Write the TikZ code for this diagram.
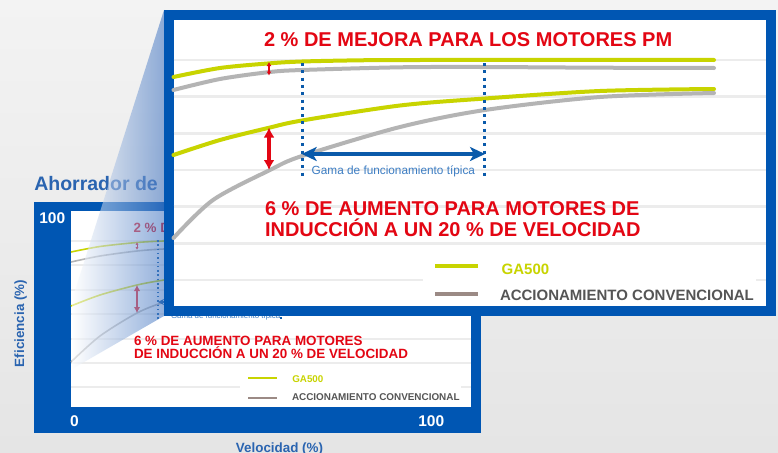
\documentclass[tikz,border=0pt]{standalone}
\usepackage{fontspec}
\setmainfont{Liberation Sans}
\usetikzlibrary{arrows.meta}
\definecolor{bgtop}{RGB}{243,243,243}
\definecolor{bgbot}{RGB}{229,229,229}
\definecolor{frameblue}{RGB}{0,86,179}
\definecolor{cred}{RGB}{227,6,19}
\definecolor{cgreen}{RGB}{200,212,0}
\definecolor{cgray}{RGB}{180,180,180}
\definecolor{leggray}{RGB}{155,138,133}
\definecolor{txtgray}{RGB}{85,85,85}
\definecolor{gridgray}{RGB}{236,236,236}
\definecolor{gamablue}{RGB}{60,125,195}
\definecolor{arrblue}{RGB}{10,90,170}
\definecolor{titleblue}{RGB}{42,100,176}
\definecolor{wedgeblue}{RGB}{70,120,195}
\tikzset{
  lbl/.style={inner sep=0pt, outer sep=0pt, anchor=base west},
  bigred/.style={lbl, text=cred, font=\bfseries\fontsize{20}{24}\selectfont},
  smallred/.style={lbl, text=cred, font=\bfseries\fontsize{13.4}{16}\selectfont},
  biggrid/.style={gridgray, line width=2.7pt},
  smallgrid/.style={gridgray, line width=2pt},
  bigcurve/.style={line width=4pt, line cap=round},
  smallcurve/.style={line width=1.6pt},
  bigdots/.style={arrblue, line width=3pt, dash pattern=on 3pt off 4.3pt},
  smalldots/.style={arrblue, line width=1.5pt, dash pattern=on 1.5pt off 2.8pt},
  axislbl/.style={text=titleblue, font=\bfseries\fontsize{13.4}{16}\selectfont, inner sep=0pt},
  ticklbl/.style={lbl, text=white, font=\bfseries\fontsize{15.5}{18}\selectfont},
}
\begin{document}
\begin{tikzpicture}[x=1pt,y=-1pt]
\useasboundingbox (0,0) rectangle (778,452);
\shade[top color=bgtop, bottom color=bgbot] (0,0) rectangle (778,452);

% ---------- small chart ----------
\node[lbl, text=titleblue, font=\bfseries\fontsize{19.5}{22}\selectfont] (title) at (34.3,190) {Ahorrador de};
\node[axislbl, rotate=90, anchor=base] (ylab) at (24,323.5) {Eficiencia (\%)};
\node[axislbl, anchor=base] (xlab) at (279.5,452.5) {Velocidad (\%)};

\fill[frameblue] (34,202) rectangle (481,433);
\fill[white] (71,211) rectangle (471,407);
\foreach \yy in {241,265.4,289.8,314.2,338.6,363}
  \draw[smallgrid] (71,\yy) -- (471,\yy);
\draw[smallgrid] (71,387.4) -- (240,387.4);
\draw[smallgrid] (461,387.4) -- (471,387.4);

\draw[smallcurve, cgreen] plot[smooth] coordinates {(71,252) (100,246.5) (137,242.5) (164,241) (200,240.5)};
\draw[smallcurve, cgray] plot[smooth] coordinates {(71,262) (100,256) (137,251) (164,249) (200,248)};
\draw[smallcurve, cgreen] plot[smooth] coordinates {(71,306) (100,295) (137,285) (164,280) (200,275)};
\draw[smallcurve, cgray] plot[smooth] coordinates {(71,362) (100,336) (137,313) (164,302) (200,290)};

\coordinate (sd1t) at (158,240); \coordinate (sd1b) at (158,319);
\coordinate (sd2t) at (281,240); \coordinate (sd2b) at (281,319);
\draw[smalldots] (sd1t) -- (sd1b);
\draw[smalldots] (sd2t) -- (sd2b);
\coordinate (sal) at (158,302); \coordinate (sar) at (281,302);
\draw[arrblue, line width=1.5pt, {Stealth[length=6pt,width=6pt]}-{Stealth[length=6pt,width=6pt]}] (sal) -- (sar);
\node[lbl, text=gamablue, font=\fontsize{7.9}{9}\selectfont] (sgama) at (171,318.5) {Gama de funcionamiento típica};

\coordinate (sa1t) at (137,242.3); \coordinate (sa1b) at (137,249.7);
\draw[cred, line width=0.9pt, {Latex[length=2.5pt,width=3pt]}-{Latex[length=2.5pt,width=3pt]}] (sa1t) -- (sa1b);
\coordinate (sa2t) at (137,285); \coordinate (sa2b) at (137,313);
\draw[cred, line width=2pt, {Latex[length=6pt,width=6.5pt]}-{Latex[length=6pt,width=6.5pt]}] (sa2t) -- (sa2b);

\node[smallred] (st1) at (133.5,232) {2 \% DE MEJORA};
\node[smallred] (st2) at (134,345) {6 \% DE AUMENTO PARA MOTORES};
\node[smallred] (st3) at (134,358.3) {DE INDUCCIÓN A UN 20 \% DE VELOCIDAD};

\coordinate (sl1a) at (248,378.3); \coordinate (sl1b) at (277,378.3);
\draw[cgreen, line width=2.2pt] (sl1a) -- (sl1b);
\node[lbl, text=cgreen, font=\bfseries\fontsize{9.8}{12}\selectfont] (sga) at (292.3,382.7) {GA500};
\coordinate (sl2a) at (248,397.7); \coordinate (sl2b) at (277,397.7);
\draw[leggray, line width=2.2pt] (sl2a) -- (sl2b);
\node[lbl, text=txtgray, font=\bfseries\fontsize{9.9}{12}\selectfont] (sacc) at (292,400.7) {ACCIONAMIENTO CONVENCIONAL};

\node[ticklbl] (t100a) at (39.3,223) {100};
\node[ticklbl] (t0) at (70,426) {0};
\node[ticklbl] (t100b) at (418.3,426) {100};

% ---------- magnifier wedge ----------
\shade[left color=white, right color=wedgeblue, fill opacity=0.58] (164,10) -- (72,300) -- (72,369) -- (164,316) -- cycle;

% ---------- big chart ----------
\fill[frameblue] (164,10) rectangle (776,315.5);
\fill[white] (173.5,20) rectangle (766,305.5);
\foreach \yy in {60,96.7,133.3,170,206.7,243.3}
  \draw[biggrid] (173.5,\yy) -- (766,\yy);
\draw[biggrid] (173.5,280) -- (423,280);
\draw[biggrid] (756,280) -- (766,280);

\draw[bigcurve, cgreen] plot[smooth] coordinates {(173.5,77) (220,68) (270,63.3) (302,61.5) (360,60.3) (420,60) (714,60)};
\draw[bigcurve, cgray] plot[smooth] coordinates {(173.5,90) (220,79) (270,72) (302,70) (400,67.3) (480,67) (600,67.7) (714,68)};
\draw[bigcurve, cgreen] plot[smooth] coordinates {(173.5,155) (220,140) (268,128) (302,120.5) (400,105.5) (485,98.5) (600,91) (714,89)};
\draw[bigcurve, cgray] plot[smooth] coordinates {(173.5,238) (213,200) (270,170) (302,156) (400,127) (485,110) (600,97) (714,93)};

\coordinate (d1t) at (302,63); \coordinate (d1b) at (302,178);
\coordinate (d2t) at (484.5,63); \coordinate (d2b) at (484.5,178);
\draw[bigdots] (d1t) -- (d1b);
\draw[bigdots] (d2t) -- (d2b);
\coordinate (bal) at (301.7,154); \coordinate (bar) at (485,154);
\draw[arrblue, line width=3.5pt, {Stealth[length=15pt,width=14pt,inset=4pt]}-{Stealth[length=15pt,width=14pt,inset=4pt]}] (bal) -- (bar);
\node[lbl, text=gamablue, font=\fontsize{11.8}{14}\selectfont] (gama) at (311.7,174) {Gama de funcionamiento típica};

\coordinate (ra1t) at (269,62); \coordinate (ra1b) at (269,75.5);
\draw[cred, line width=1.5pt, {Latex[length=4pt,width=5pt]}-{Latex[length=4pt,width=5pt]}] (ra1t) -- (ra1b);
\coordinate (ra2t) at (269,127.5); \coordinate (ra2b) at (269,170);
\draw[cred, line width=3.5pt, {Latex[length=10pt,width=11pt]}-{Latex[length=10pt,width=11pt]}] (ra2t) -- (ra2b);

\node[bigred] (bt1) at (264,46.7) {2 \% DE MEJORA PARA LOS MOTORES PM};
\node[bigred] (bt2) at (265,215.7) {6 \% DE AUMENTO PARA MOTORES DE};
\node[bigred] (bt3) at (265,236.7) {INDUCCIÓN A UN 20 \% DE VELOCIDAD};

\coordinate (l1a) at (435,266); \coordinate (l1b) at (478,266);
\draw[cgreen, line width=4pt] (l1a) -- (l1b);
\node[lbl, text=cgreen, font=\bfseries\fontsize{15}{18}\selectfont] (ga) at (501.7,274.3) {GA500};
\coordinate (l2a) at (435,294.3); \coordinate (l2b) at (478,294.3);
\draw[leggray, line width=4pt] (l2a) -- (l2b);
\node[lbl, text=txtgray, font=\bfseries\fontsize{15}{18}\selectfont] (acc) at (500,300.7) {ACCIONAMIENTO CONVENCIONAL};
\end{tikzpicture}
\end{document}
